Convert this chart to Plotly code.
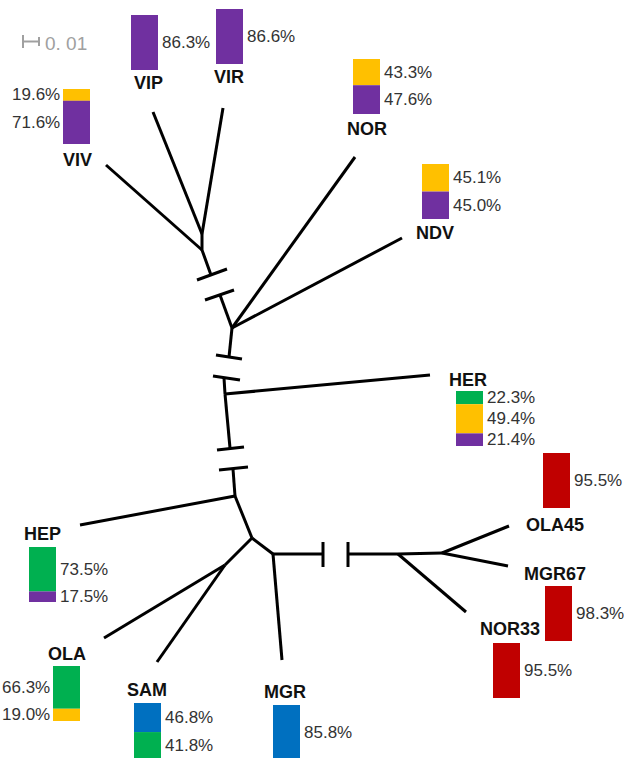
import plotly.graph_objects as go

# ---------------- data ----------------
taxa = ["VIP", "VIR", "VIV", "NOR", "NDV", "HER", "OLA45", "MGR67", "NOR33",
        "MGR", "SAM", "OLA", "HEP"]
pct_values = [[86.3], [86.6], [19.6, 71.6], [43.3, 47.6], [45.1, 45.0],
              [22.3, 49.4, 21.4], [95.5], [98.3], [95.5], [85.8],
              [46.8, 41.8], [66.3, 19.0], [73.5, 17.5]]
pct_groups = [["purple"], ["purple"], ["yellow", "purple"], ["yellow", "purple"],
              ["yellow", "purple"], ["green", "yellow", "purple"], ["red"], ["red"],
              ["red"], ["blue"], ["blue", "green"], ["green", "yellow"],
              ["green", "purple"]]
scale_label = "0. 01"

# ---------------- layout / styling ----------------
colors = {"purple": "#7030A0", "yellow": "#FFC000", "green": "#00B050",
          "blue": "#0070C0", "red": "#C00000"}
W, H = 624, 758
BAR_W, BAR_H = 27, 55
bar_left = [131, 216, 63, 353, 422, 456, 543, 545, 493, 273, 134, 53, 29]
bar_top = [15, 9, 89, 59, 164, 391, 453, 586, 643, 705, 703, 666, 547]
label_side = ["r", "r", "l", "r", "r", "r", "r", "r", "r", "r", "r", "l", "r"]
name_pos = [(148, 83), (229, 77), (77, 160), (367, 129), (435, 233), (468, 380),
            (555, 525), (555, 574), (510, 629), (285, 692), (147, 690),
            (67, 654), (42, 534)]

# tree drawing (pixel layout of the unrooted tree)
edges = [
    [(153, 112), (202, 234)], [(223, 108), (202, 234)], [(106, 165), (202, 250)],
    [(202, 234), (202, 250), (211, 275)],
    [(197, 280), (227, 269)], [(205, 300), (234, 290)],
    [(220, 295), (232, 328)],
    [(232, 328), (355, 157)], [(232, 328), (402, 238)],
    [(232, 328), (229, 357)], [(216, 355), (242, 359)],
    [(213, 376), (240, 380)], [(224, 378), (225, 394)],
    [(225, 394), (430, 375)],
    [(225, 394), (230, 448)], [(217, 450), (244, 447)],
    [(219, 470), (248, 467)], [(233, 469), (235, 496)],
    [(235, 496), (80, 525)],
    [(235, 496), (252, 538)],
    [(252, 538), (225, 565)],
    [(225, 565), (104, 638)], [(225, 565), (157, 662)],
    [(252, 538), (273, 554)],
    [(273, 554), (282, 660)],
    [(273, 554), (323, 554)], [(323, 542), (323, 567)],
    [(348, 542), (348, 567)], [(348, 554), (398, 554)],
    [(398, 554), (466, 612)],
    [(398, 554), (442, 553)],
    [(442, 553), (509, 526)], [(442, 553), (508, 566)],
]

fig = go.Figure()

ex, ey = [], []
for e in edges:
    for (x, y) in e:
        ex.append(x)
        ey.append(y)
    ex.append(None)
    ey.append(None)
fig.add_trace(go.Scatter(x=ex, y=ey, mode="lines",
                         line=dict(color="black", width=3),
                         hoverinfo="skip", showlegend=False))

# scale bar
fig.add_trace(go.Scatter(x=[23, 23, None, 23, 39, None, 39, 39],
                         y=[35, 48, None, 41.5, 41.5, None, 37, 46],
                         mode="lines", line=dict(color="#a0a0a0", width=2),
                         hoverinfo="skip", showlegend=False))

annotations = [dict(x=43, y=43, text=scale_label, showarrow=False,
                    xanchor="left", yanchor="middle",
                    font=dict(family="Liberation Sans", size=19, color="#a0a0a0"))]

# stacked bars
for i, name in enumerate(taxa):
    vals = pct_values[i]
    total = sum(vals)
    top = bar_top[i]
    cx = bar_left[i] + BAR_W / 2
    for v, g in zip(vals, pct_groups[i]):
        h = v / total * BAR_H
        fig.add_trace(go.Bar(x=[cx], y=[h], base=[top], width=[BAR_W],
                             marker=dict(color=colors[g], line=dict(width=0)),
                             hoverinfo="skip", showlegend=False))
        if label_side[i] == "r":
            lx, anchor = bar_left[i] + BAR_W + 2, "left"
        else:
            lx, anchor = bar_left[i] - 1, "right"
        annotations.append(dict(x=lx, y=top + h / 2, text=f"{v:.1f}%",
                                showarrow=False, xanchor=anchor, yanchor="middle",
                                font=dict(family="Liberation Sans", size=17,
                                          color="#333333")))
        top += h
    nx, ny = name_pos[i]
    annotations.append(dict(x=nx, y=ny, text=f"<b>{name}</b>", showarrow=False,
                            xanchor="center", yanchor="middle",
                            font=dict(family="Liberation Sans", size=18,
                                      color="#111111")))

fig.update_layout(
    width=W, height=H, margin=dict(l=0, r=0, t=0, b=0),
    paper_bgcolor="white", plot_bgcolor="white",
    barmode="overlay", showlegend=False,
    xaxis=dict(range=[0, W], visible=False, fixedrange=True),
    yaxis=dict(range=[H, 0], visible=False, fixedrange=True),
    annotations=annotations,
)

fig.write_html("out.html", config={"displayModeBar": False},
               post_script="document.body.style.margin='0px';"
                           "document.body.style.overflow='hidden';")
